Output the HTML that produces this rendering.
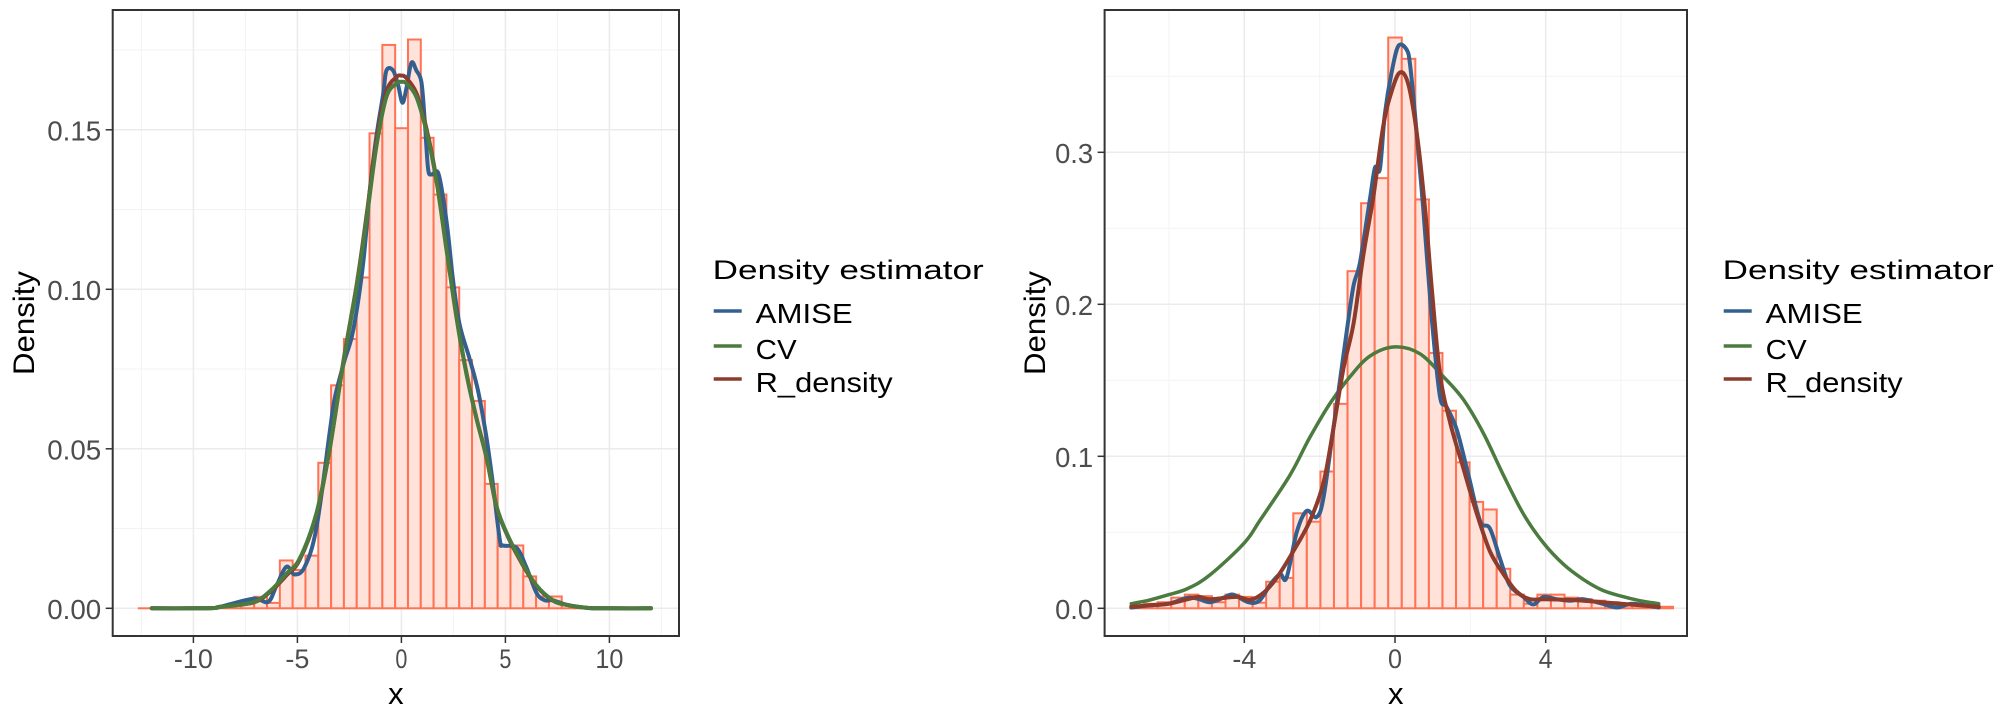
<!DOCTYPE html>
<html><head><meta charset="utf-8"><style>
html,body{margin:0;padding:0;background:#fff;}
svg{display:block;font-family:"Liberation Sans",Arial,sans-serif;}
</style></head><body>
<svg id="chart" width="2016" height="720" viewBox="0 0 2016 720" xmlns="http://www.w3.org/2000/svg"></svg>
<script>
// ---------- LEFT PANEL DATA ----------
const leftBinStart = -12.62;
const leftBinWidth = 0.616;
const leftBinHeights = [0,0,0,0,0,0,0,0.0014,0.0017,0.0036,0.0017,0.015,0.012,0.0165,0.0456,0.0699,0.0844,0.1037,0.1489,0.1766,0.1505,0.1783,0.1475,0.1297,0.1006,0.0778,0.065,0.039,0.0195,0.0197,0.010,0.0037,0.0037,0,0,0,0,0,0,0];
const leftCvX = [-12,-10,-9,-8.73,-7.13,-6.3,-5.53,-4.89,-4.09,-3.45,-2.79,-2.15,-1.67,-1.2,-0.72,-0.24,0,0.24,0.72,1.2,1.68,2.16,2.64,3.12,3.61,4.09,4.57,5.05,5.69,6.49,7.29,8,9,10,12];
const leftCvY = [0,0,0.0001,0.0004,0.0019,0.0055,0.0108,0.0156,0.0297,0.0499,0.0771,0.1009,0.1223,0.1448,0.1603,0.1645,0.165,0.1645,0.1603,0.1496,0.1342,0.1128,0.0915,0.0737,0.0594,0.0475,0.0321,0.0238,0.0155,0.0072,0.0025,0.001,0.0001,0,0];
const leftRX = [-12,-10,-9,-8.73,-7.13,-6.3,-5.53,-4.89,-4.09,-3.45,-2.79,-2.15,-1.67,-1.2,-0.72,-0.24,0,0.24,0.72,1.2,1.68,2.16,2.64,3.12,3.61,4.09,4.57,5.05,5.69,6.49,7.29,8,9,10,12];
const leftRY = [0,0,0.0001,0.0005,0.0018,0.0052,0.0103,0.0152,0.0292,0.0497,0.0775,0.1015,0.1235,0.1465,0.162,0.1665,0.167,0.1662,0.1615,0.1505,0.1348,0.1132,0.0918,0.074,0.0596,0.0472,0.0318,0.0235,0.0152,0.007,0.0024,0.001,0.0001,0,0];
const leftAmiseX = [-12,-10,-9,-8.73,-7.13,-6.41,-6.01,-5.53,-5.13,-4.65,-4.09,-3.45,-3.2,-2.72,-2.32,-1.84,-1.52,-1.2,-0.88,-0.72,-0.4,-0.16,0.05,0.24,0.48,0.72,0.96,1.12,1.28,1.44,1.76,2.0,2.24,2.48,2.8,3.29,3.69,4.09,4.4,4.73,4.89,5.53,6.0,6.49,6.89,7.29,8,9,10,12];
const leftAmiseY = [0,0,0.0001,0.0004,0.003,0.002,0.007,0.013,0.0106,0.013,0.025,0.055,0.066,0.078,0.087,0.108,0.131,0.148,0.161,0.1686,0.1686,0.164,0.1585,0.163,0.171,0.1686,0.165,0.153,0.138,0.136,0.1366,0.129,0.1176,0.103,0.089,0.078,0.068,0.0535,0.039,0.0215,0.0197,0.019,0.013,0.0049,0.0025,0.0025,0.001,0.0001,0,0];
const leftXTicks = [-10,-5,0,5,10];
const leftXTickLabels = ["-10","-5","0","5","10"];
const leftXMinor = [-12.5,-7.5,-2.5,2.5,7.5,12.5];
const leftYTicks = [0,0.05,0.10,0.15];
const leftYTickLabels = ["0.00","0.05","0.10","0.15"];
const leftYMinor = [0.025,0.075,0.125,0.175];

// ---------- RIGHT PANEL DATA ----------
const rightBinStart = -7.02;
const rightBinWidth = 0.36;
const rightBinHeights = [0.0015,0.003,0.004,0.007,0.009,0.008,0.004,0.009,0.0075,0.0037,0.0175,0.020,0.0625,0.057,0.09,0.1345,0.2218,0.2665,0.283,0.3755,0.3615,0.269,0.168,0.13,0.096,0.07,0.065,0.026,0.009,0.003,0.009,0.009,0.007,0.006,0.005,0.004,0.003,0.002,0.002,0.001];
const rightCvX = [-7,-6.5,-6,-5.5,-4.91,-4.0,-3.58,-2.79,-2.26,-1.72,-1.19,-0.66,0,0.66,1.28,1.81,2.35,2.88,3.41,3.94,4.47,5,5.5,6,6.5,7];
const rightCvY = [0.003,0.0055,0.009,0.013,0.022,0.043,0.058,0.0875,0.1125,0.135,0.1525,0.166,0.172,0.1675,0.1525,0.1375,0.115,0.0875,0.062,0.043,0.029,0.019,0.012,0.008,0.005,0.003];
const rightAmiseX = [-7,-6.5,-6,-5.5,-5.2,-4.91,-4.55,-4.3,-3.9,-3.6,-3.3,-3.05,-2.88,-2.61,-2.35,-2.08,-1.9,-1.64,-1.28,-1.1,-0.93,-0.66,-0.53,-0.4,-0.27,-0.09,0.09,0.31,0.4,0.53,0.75,0.97,1.19,1.37,1.64,1.95,2.26,2.52,2.79,3.05,3.41,3.67,3.94,4.29,4.65,5,5.5,5.9,6.3,7];
const rightAmiseY = [0.0005,0.002,0.003,0.007,0.006,0.004,0.007,0.009,0.004,0.005,0.016,0.0225,0.02,0.05,0.064,0.06,0.0725,0.1175,0.1825,0.2125,0.2275,0.27,0.29,0.289,0.325,0.3525,0.37,0.3675,0.3575,0.325,0.2625,0.1925,0.14,0.1325,0.1175,0.0875,0.0575,0.0525,0.0325,0.015,0.0075,0.0025,0.0075,0.006,0.005,0.006,0.003,0.0005,0.003,0.0005];
const rightRX = [-7,-6.5,-6,-5.5,-5.2,-4.91,-4.2,-3.85,-3.5,-3.14,-2.7,-2.26,-1.9,-1.64,-1.37,-1.1,-0.84,-0.58,-0.31,-0.09,0.13,0.35,0.58,0.8,0.97,1.19,1.46,1.81,2.17,2.52,2.88,3.23,3.58,3.94,4.65,5,5.5,6,6.5,7];
const rightRY = [0.001,0.002,0.003,0.006,0.0075,0.006,0.0075,0.0055,0.01,0.02,0.0375,0.0575,0.0825,0.1175,0.1575,0.1875,0.2325,0.27,0.3175,0.34,0.3525,0.345,0.3125,0.2625,0.2125,0.155,0.1225,0.0925,0.0625,0.0375,0.0225,0.011,0.006,0.006,0.0055,0.005,0.004,0.003,0.002,0.001];
const rightXTicks = [-4,0,4];
const rightXTickLabels = ["-4","0","4"];
const rightXMinor = [-6,-2,2,6];
const rightYTicks = [0,0.1,0.2,0.3];
const rightYTickLabels = ["0.0","0.1","0.2","0.3"];
const rightYMinor = [0.05,0.15,0.25,0.35];

const legendLabels = ["AMISE","CV","R_density"];
const COL = {AMISE:"#33608f", CV:"#4b7b3f", R_density:"#8c3b2c"};

const NS = "http://www.w3.org/2000/svg";
const svg = document.getElementById("chart");
function mk(tag, attrs, parent){
  const e = document.createElementNS(NS, tag);
  for (const k in attrs) e.setAttribute(k, attrs[k]);
  (parent||svg).appendChild(e);
  return e;
}
function smoothPath(P){
  let d = "M" + P[0][0].toFixed(1) + "," + P[0][1].toFixed(1);
  for (let i=0;i<P.length-1;i++){
    const p0 = P[Math.max(i-1,0)], p1 = P[i], p2 = P[i+1], p3 = P[Math.min(i+2,P.length-1)];
    const c1x = p1[0] + (p2[0]-p0[0])/6, c1y = p1[1] + (p2[1]-p0[1])/6;
    const c2x = p2[0] - (p3[0]-p1[0])/6, c2y = p2[1] - (p3[1]-p1[1])/6;
    d += " C" + c1x.toFixed(1)+","+c1y.toFixed(1)+" "+c2x.toFixed(1)+","+c2y.toFixed(1)+" "+p2[0].toFixed(1)+","+p2[1].toFixed(1);
  }
  return d;
}

function drawPanel(cfg){
  const g = mk("g", {});
  
  
  const sx = v => cfg.x0 + v*cfg.ux;
  const sy = v => cfg.y0 - v*cfg.uy;
  const L = cfg.left, R = cfg.right, T = cfg.top, B = cfg.bottom;
  cfg.xMinor.forEach(v => { const p = sx(v); if (p>L && p<R){
    const l = mk("line", {x1:p,x2:p,y1:T,y2:B,stroke:"#f3f3f3","stroke-width":1}, g);
    
     }});
  cfg.yMinor.forEach(v => { const p = sy(v); if (p>T && p<B){
    const l = mk("line", {x1:L,x2:R,y1:p,y2:p,stroke:"#f3f3f3","stroke-width":1}, g);
    
     }});
  cfg.xTicks.forEach(v => { const p = sx(v);
    const l = mk("line", {x1:p,x2:p,y1:T,y2:B,stroke:"#ebebeb","stroke-width":1.5}, g);
    
     });
  cfg.yTicks.forEach(v => { const p = sy(v);
    const l = mk("line", {x1:L,x2:R,y1:p,y2:p,stroke:"#ebebeb","stroke-width":1.5}, g);
    
     });
  cfg.bins.forEach((h,i) => {
    const x1 = sx(cfg.binStart + i*cfg.binWidth), x2 = sx(cfg.binStart + (i+1)*cfg.binWidth);
    const y = sy(h), y0 = sy(0);
    const r = mk("rect", {x:x1,y:Math.min(y,y0-0.01),width:x2-x1,height:Math.max(y0-y,0.01),fill:"#ffe3da",stroke:"#ff7354","stroke-width":2}, g);
    
    
  });
  cfg.lines.forEach(ln => {
    const P = ln.xs.map((x,i) => [sx(x), sy(ln.ys[i])]);
    const p = mk("path", {d:smoothPath(P),fill:"none",stroke:COL[ln.key],"stroke-width":ln.w,"stroke-linejoin":"round","stroke-linecap":"round"}, g);
    
    
  });
  const b = mk("rect", {x:L,y:T,width:R-L,height:B-T,fill:"none",stroke:"#333","stroke-width":2}, g);
  
  
  cfg.xTicks.forEach((v,i) => { const p = sx(v);
    const t = mk("line", {x1:p,x2:p,y1:B,y2:B+7,stroke:"#333","stroke-width":1.5}, g);
    
    
    const tx = mk("text", {x:p,y:668,"text-anchor":"middle","font-size":27,fill:"#4d4d4d",textLength:cfg.xLabW[i],lengthAdjust:"spacingAndGlyphs"}, g);
    tx.textContent = cfg.xLabels[i];
    
     });
  cfg.yTicks.forEach((v,i) => { const p = sy(v);
    const t = mk("line", {x1:L-7,x2:L,y1:p,y2:p,stroke:"#333","stroke-width":1.5}, g);
    
    
    const tx = mk("text", {x:L-11.5,y:p+10.5,"text-anchor":"end","font-size":28,fill:"#4d4d4d",textLength:cfg.yLabW,lengthAdjust:"spacingAndGlyphs"}, g);
    tx.textContent = cfg.yLabels[i];
    
     });
  const xt = mk("text", {x:(L+R)/2,y:704,"text-anchor":"middle","font-size":31,fill:"#000"}, g);
  xt.textContent = "x";
  
  
  const yt = mk("text", {x:0,y:0,"text-anchor":"middle","font-size":30,fill:"#000",transform:"translate("+cfg.yTitleX+","+((T+B)/2)+") rotate(-90)",textLength:104,lengthAdjust:"spacingAndGlyphs"}, g);
  yt.textContent = "Density";
  
  
  const lg = mk("g", {}, svg);
  
  
  const title = mk("text", {x:cfg.legX,y:279,"font-size":27,fill:"#000",textLength:271,lengthAdjust:"spacingAndGlyphs"}, lg);
  title.textContent = "Density estimator";
  
  
  const keyY = [311,346,379], baseY = [323,359,392], labW = [97,41,137];
  legendLabels.forEach((k,i) => {
    const kl = mk("line", {x1:cfg.legX+1,x2:cfg.legX+29,y1:keyY[i],y2:keyY[i],stroke:COL[k],"stroke-width":3.5}, lg);
    
    
    const lt = mk("text", {x:cfg.legX+43,y:baseY[i],"font-size":28,fill:"#000",textLength:labW[i],lengthAdjust:"spacingAndGlyphs"}, lg);
    lt.textContent = k;
    
    
  });
}

drawPanel({name:"left-panel", left:112.7, right:679, top:10, bottom:636,
  x0:401.4, ux:20.8, y0:608.3, uy:3190,
  xTicks:leftXTicks, xLabels:leftXTickLabels, xMinor:leftXMinor, xLabW:[39,24,12,12,28],
  yTicks:leftYTicks, yLabels:leftYTickLabels, yMinor:leftYMinor, yLabW:54,
  bins:leftBinHeights, binStart:leftBinStart, binWidth:leftBinWidth,
  lines:[{key:"AMISE",xs:leftAmiseX,ys:leftAmiseY,w:4},{key:"R_density",xs:leftRX,ys:leftRY,w:4},{key:"CV",xs:leftCvX,ys:leftCvY,w:4}],
  yTitleX:34, legX:712.7});

drawPanel({name:"right-panel", left:1104.6, right:1687, top:10, bottom:636,
  x0:1395, ux:37.67, y0:608.3, uy:1520,
  xTicks:rightXTicks, xLabels:rightXTickLabels, xMinor:rightXMinor, xLabW:[24,14,14],
  yTicks:rightYTicks, yLabels:rightYTickLabels, yMinor:rightYMinor, yLabW:38,
  bins:rightBinHeights, binStart:rightBinStart, binWidth:rightBinWidth,
  lines:[{key:"CV",xs:rightCvX,ys:rightCvY,w:3.5},{key:"AMISE",xs:rightAmiseX,ys:rightAmiseY,w:4},{key:"R_density",xs:rightRX,ys:rightRY,w:4}],
  yTitleX:1045, legX:1722.7});
</script>
</body></html>
